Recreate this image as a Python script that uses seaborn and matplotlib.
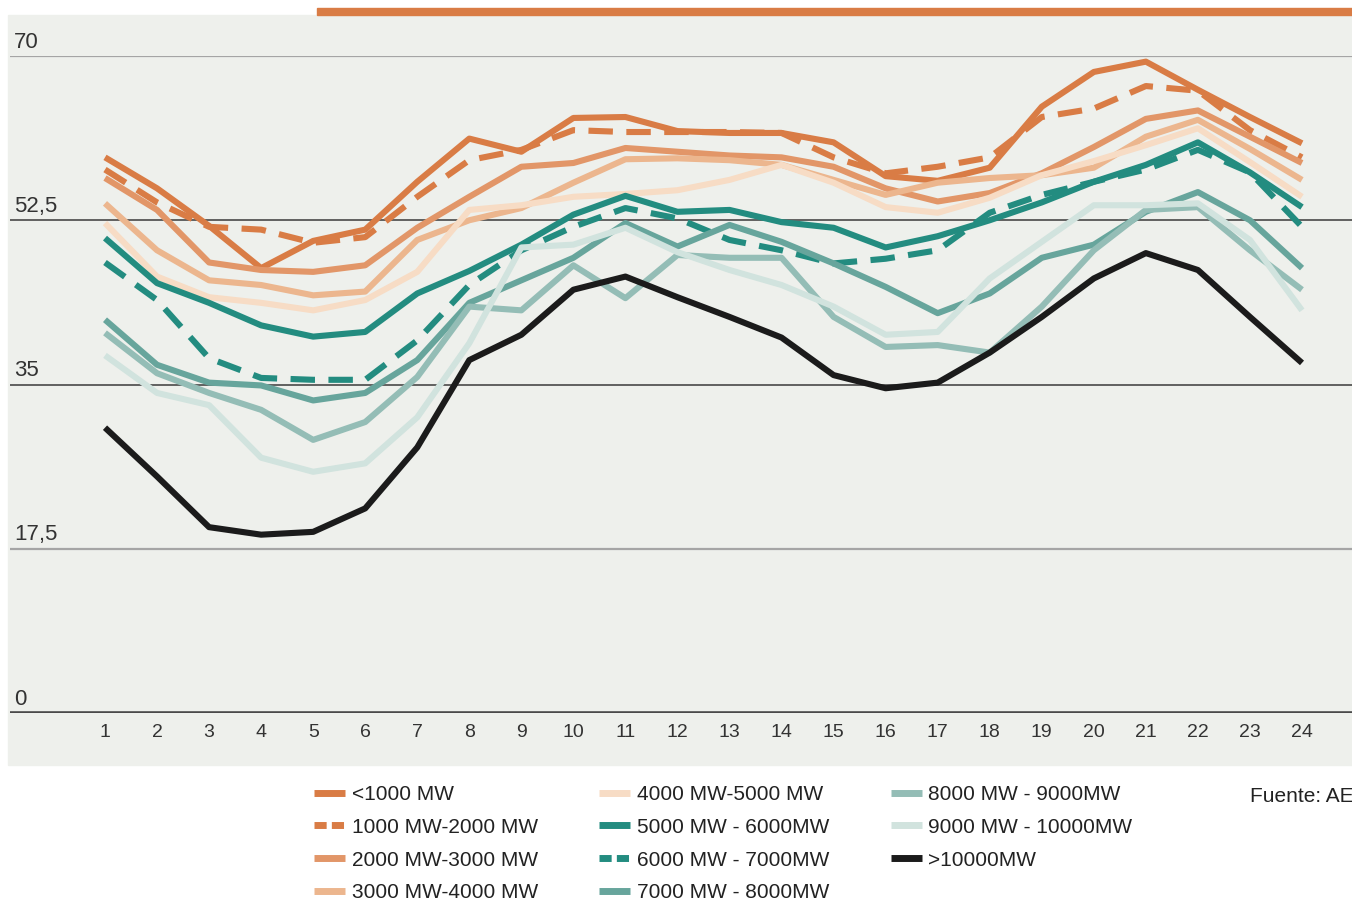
import matplotlib
matplotlib.use("Agg")
import matplotlib.pyplot as plt
import pandas as pd
import seaborn as sns
from matplotlib.lines import Line2D
from matplotlib.patches import Rectangle

# Datos (horas 1..24)
horas = list(range(1, 25))

series = ["<1000 MW", "1000 MW-2000 MW", "2000 MW-3000 MW", "3000 MW-4000 MW",
          "4000 MW-5000 MW", "5000 MW - 6000MW", "6000 MW - 7000MW", "7000 MW - 8000MW",
          "8000 MW - 9000MW", "9000 MW - 10000MW", ">10000MW"]
colores = ["#d97c45", "#d97c45", "#e29668", "#ecb68e", "#f7dcc5", "#238c80",
           "#238c80", "#67a59c", "#94bdb6", "#d1e3de", "#1b1b1b"]
discontinua = [False, True, False, False, False, False, True, False, False, False, False]

menos_1000 = [59.2, 55.9, 51.9, 47.4, 50.3, 51.5, 56.6, 61.2, 59.8, 63.4, 63.5, 62.0,
              61.8, 61.8, 60.8, 57.2, 56.7, 58.1, 64.6, 68.3, 69.4, 66.4, 63.5, 60.7]
mw_1000_2000 = [57.9, 54.4, 51.8, 51.5, 50.1, 50.7, 55.0, 58.9, 60.0, 62.1, 61.9, 61.9,
                61.9, 61.8, 59.2, 57.5, 58.2, 59.2, 63.5, 64.4, 66.8, 66.3, 62.1, 59.2]
mw_2000_3000 = [57.0, 53.6, 48.0, 47.2, 47.0, 47.7, 51.7, 55.0, 58.2, 58.6, 60.2, 59.8,
                59.4, 59.2, 58.2, 55.9, 54.5, 55.4, 57.5, 60.3, 63.3, 64.2, 61.4, 58.6]
mw_3000_4000 = [54.3, 49.3, 46.1, 45.6, 44.5, 44.9, 50.4, 52.5, 53.8, 56.5, 59.0, 59.1,
                58.9, 58.4, 56.8, 55.2, 56.5, 57.0, 57.3, 58.1, 61.4, 63.2, 60.1, 56.8]
mw_4000_5000 = [52.2, 46.5, 44.3, 43.7, 42.9, 44.0, 47.0, 53.6, 54.1, 55.0, 55.3, 55.7,
                56.8, 58.4, 56.5, 53.9, 53.3, 54.9, 57.3, 58.8, 60.5, 62.3, 58.7, 55.0]
mw_5000_6000 = [50.6, 45.8, 43.7, 41.3, 40.1, 40.6, 44.7, 47.1, 49.9, 53.1, 55.1, 53.4,
                53.6, 52.3, 51.7, 49.6, 50.8, 52.5, 54.4, 56.6, 58.4, 60.8, 57.6, 53.9]
mw_6000_7000 = [48.0, 44.0, 37.8, 35.7, 35.5, 35.5, 39.7, 45.6, 49.3, 51.8, 53.8, 52.7,
                50.4, 49.3, 47.9, 48.4, 49.3, 53.3, 55.2, 56.6, 57.9, 60.0, 57.6, 51.8]
mw_7000_8000 = [41.9, 37.1, 35.2, 34.9, 33.3, 34.1, 37.6, 43.7, 46.1, 48.5, 52.2, 49.7,
                52.0, 50.2, 47.9, 45.4, 42.6, 44.7, 48.5, 49.9, 53.4, 55.5, 52.5, 47.4]
mw_8000_9000 = [40.5, 36.2, 34.1, 32.3, 29.1, 31.0, 35.8, 43.3, 42.9, 47.7, 44.2, 48.8,
                48.5, 48.5, 42.2, 39.0, 39.2, 38.4, 43.3, 49.3, 53.6, 53.9, 49.3, 45.1]
mw_9000_10000 = [38.1, 34.1, 32.8, 27.2, 25.7, 26.6, 31.5, 39.4, 49.6, 49.9, 51.7, 49.1,
                 47.2, 45.6, 43.3, 40.3, 40.6, 46.3, 50.2, 54.1, 54.1, 54.3, 50.4, 42.9]
mas_10000 = [30.4, 25.2, 19.8, 19.0, 19.3, 21.8, 28.3, 37.6, 40.3, 45.1, 46.5, 44.3,
             42.2, 40.0, 36.0, 34.6, 35.2, 38.4, 42.2, 46.3, 49.0, 47.2, 42.2, 37.3]

valores = [menos_1000, mw_1000_2000, mw_2000_3000, mw_3000_4000, mw_4000_5000,
           mw_5000_6000, mw_6000_7000, mw_7000_8000, mw_8000_9000, mw_9000_10000, mas_10000]

yticks = [0, 17.5, 35, 52.5, 70]
ytick_labels = ["0", "17,5", "35", "52,5", "70"]

df = pd.DataFrame({
    "hora": horas * len(series),
    "valor": [v for serie in valores for v in serie],
    "serie": [s for s in series for _ in horas],
})

sns.set_theme(style="white")
plt.rcParams["font.family"] = ["Liberation Sans Narrow", "Liberation Sans", "DejaVu Sans"]
plt.rcParams["lines.solid_capstyle"] = "butt"

W, H = 1352, 914
fig = plt.figure(figsize=(W / 100, H / 100), dpi=100)
fig.patch.set_facecolor("white")

# fondo gris y barra naranja superior
fig.add_artist(Rectangle((8 / W, 1 - 765 / H), 1 - 8 / W, 750 / H,
                         transform=fig.transFigure, color="#eef0ec", zorder=0))
fig.add_artist(Rectangle((317 / W, 1 - 15 / H), 1 - 317 / W, 7 / H,
                         transform=fig.transFigure, color="#d97c45", zorder=0))

ax = fig.add_axes([10 / W, 1 - 713 / H, 1342 / W, 657 / H])
ax.patch.set_visible(False)

paleta = dict(zip(series, colores))
trazos = {s: ((4, 2.2) if d else "") for s, d in zip(series, discontinua)}
sns.lineplot(data=df, x="hora", y="valor", hue="serie", style="serie",
             hue_order=series, style_order=series, palette=paleta, dashes=trazos,
             linewidth=4.4, legend=False, ax=ax, zorder=3)

for v in yticks:
    if v in (0,):
        ax.axhline(v, color="#4a4a4a", lw=2.6, zorder=1)
    elif v in (35, 52.5):
        ax.axhline(v, color="#3a3a3a", lw=1.1, zorder=1)
    else:
        ax.axhline(v, color="#a5a5a5", lw=1.6, zorder=1)
for v, lab in zip(yticks, ytick_labels):
    ax.text(0.003, v + 0.35, lab, transform=ax.get_yaxis_transform(),
            ha="left", va="bottom", fontsize=16, color="#333333")

ax.set_ylim(0, 70)
ax.set_xlim(1 - 95 / 52.04, 24 + 50 / 52.04)
ax.set_xticks(horas)
ax.set_xticklabels([str(h) for h in horas])
ax.set_yticks([])
ax.tick_params(axis="x", length=0, pad=8, labelsize=14, labelcolor="#333333")
ax.set_xlabel("")
ax.set_ylabel("")
for sp in ax.spines.values():
    sp.set_visible(False)

# leyenda
handles = []
for c, d in zip(colores, discontinua):
    if d:
        handles.append(Line2D([], [], color=c, lw=5, linestyle=(0, (1.75, 0.75))))
    else:
        handles.append(Line2D([], [], color=c, lw=5))
fig.legend(handles, series, ncol=3, loc="upper left",
           bbox_to_anchor=(314 / W, 1 - 785 / H), frameon=False, fontsize=15,
           handlelength=1.5, handletextpad=0.3, columnspacing=2.95, labelspacing=0.66,
           borderaxespad=0, borderpad=0, labelcolor="#222222")

fig.text(1250 / W, 1 - 797 / H, "Fuente: AEE", fontsize=15, color="#222222",
         ha="left", va="center")

fig.savefig("out.png", dpi=100)
